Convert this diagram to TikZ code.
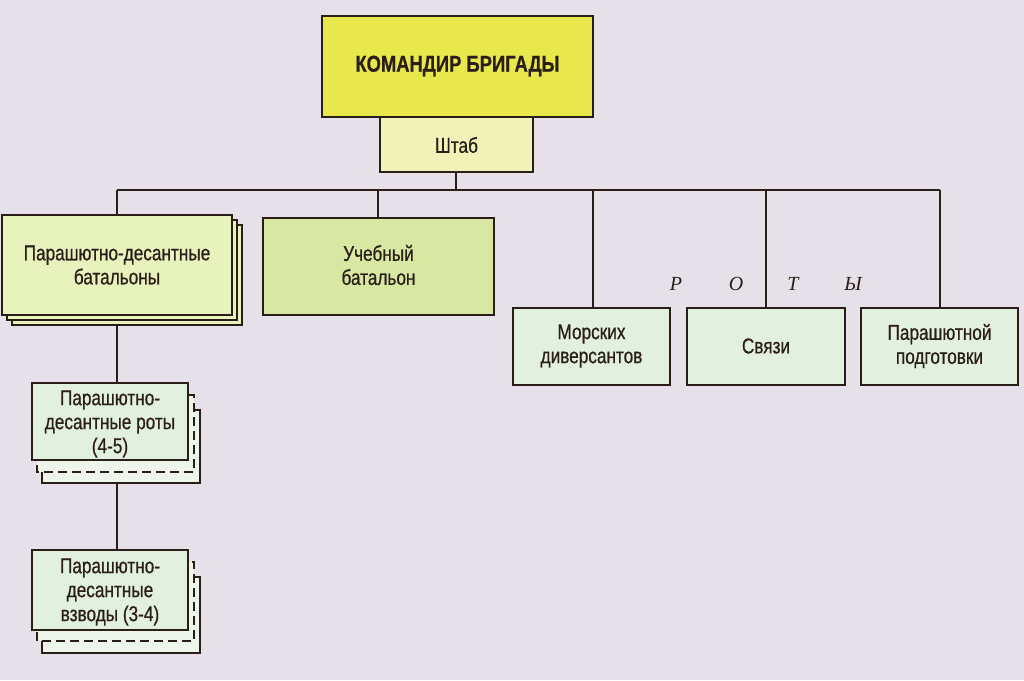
\documentclass[tikz,border=0pt]{standalone}
\usepackage{fontspec}
\setmainfont{Liberation Sans}[FakeStretch=0.8,FakeBold=0.6]
\newfontfamily\rotafont{Liberation Serif}
\definecolor{bg}{HTML}{E6E1E8}
\definecolor{cmdfill}{HTML}{E8E84C}
\definecolor{shtabfill}{HTML}{F0F2B8}
\definecolor{batfill}{HTML}{E8F2BC}
\definecolor{uchfill}{HTML}{D8E8A2}
\definecolor{rotafill}{HTML}{E2F0E0}
\definecolor{ink}{HTML}{2A1E18}
\begin{document}
\begin{tikzpicture}[x=1pt,y=-1pt,
  box/.style={draw=ink,line width=2.6pt,inner sep=0pt,align=center,text=ink},
  conn/.style={draw=ink,line width=2.2pt},
  lbl/.style={font=\fontsize{21.5}{24}\selectfont,text=ink,align=center}]
\fill[bg] (0,0) rectangle (1024,680);
\useasboundingbox (0,0) rectangle (1024,680);
% commander and staff
\draw[box,fill=cmdfill] (322,16) rectangle (593,117);
\node[lbl,font=\bfseries\fontsize{23}{25}\selectfont] (cmd) at (457.5,66) {КОМАНДИР БРИГАДЫ};
\draw[box,fill=shtabfill] (380,117) rectangle (533,172);
\node[lbl] (shtab) at (456.5,145) {Штаб};
\coordinate (shb) at (456,172);
% bus
\coordinate (bus0) at (117,190);
\coordinate (bus1) at (940,190);
\coordinate (busS) at (456,190);
\coordinate (busU) at (378,190);
\coordinate (busM) at (593,190);
\coordinate (busC) at (766,190);
\coordinate (busP) at (940,190);
% battalions stack
\draw[box,fill=batfill] (12,225) rectangle (242,325);
\draw[box,fill=batfill] (7,220) rectangle (237,320);
\draw[box,fill=batfill] (2,215) rectangle (232,315);
\node[lbl] (pdb) at (117,265) {Парашютно-десантные\\батальоны};
\coordinate (pdbT) at (117,215);
\coordinate (pdbB) at (117,325);
% training battalion
\draw[box,fill=uchfill] (263,218) rectangle (494,315);
\node[lbl] (uch) at (378.5,265) {Учебный\\батальон};
\coordinate (uchT) at (378,218);
% companies
\draw[box,fill=rotafill] (513,308) rectangle (670,385);
\node[lbl] (mor) at (591.5,346) {Морских\\диверсантов};
\draw[box,fill=rotafill] (687,308) rectangle (845,385);
\node[lbl] (svz) at (766,346) {Связи};
\draw[box,fill=rotafill] (861,308) rectangle (1018,385);
\node[lbl] (par) at (939.5,346) {Парашютной\\подготовки};
\coordinate (morT) at (593,308);
\coordinate (svzT) at (766,308);
\coordinate (parT) at (940,308);
% "ROTY"
\foreach \x/\c in {676/Р,736/О,793/Т,853/Ы}
  \node[text=ink,font=\rotafont\itshape\fontsize{20}{22}\selectfont] at (\x,284) {\c};
% para companies stack
\draw[box,line width=2.2pt,fill=rotafill!60!white] (42,410) rectangle (200,483);
\draw[box,line width=2.2pt,dashed,dash pattern=on 9pt off 5pt,fill=rotafill!60!white] (37,395) rectangle (194,472);
\draw[box,fill=rotafill] (32,383) rectangle (188,460);
\node[lbl] (pdr) at (110,424) {Парашютно-\\десантные роты\\(4-5)};
\coordinate (pdrT) at (117,383);
\coordinate (pdrB) at (117,483);
% platoons stack
\draw[box,line width=2.2pt,fill=rotafill!60!white] (42,577) rectangle (200,653);
\draw[box,line width=2.2pt,dashed,dash pattern=on 9pt off 5pt,fill=rotafill!60!white] (37,562) rectangle (194,641);
\draw[box,fill=rotafill] (32,550) rectangle (188,630);
\node[lbl] (pdv) at (110,592) {Парашютно-\\десантные\\взводы (3-4)};
\coordinate (pdvT) at (117,550);
% connectors
\draw[conn] (shb) -- (busS);
\draw[conn] (bus0) -- (bus1);
\draw[conn] (bus0) -- (pdbT);
\draw[conn] (busU) -- (uchT);
\draw[conn] (busM) -- (morT);
\draw[conn] (busC) -- (svzT);
\draw[conn] (busP) -- (parT);
\draw[conn] (pdbB) -- (pdrT);
\draw[conn] (pdrB) -- (pdvT);
\end{tikzpicture}
\end{document}
